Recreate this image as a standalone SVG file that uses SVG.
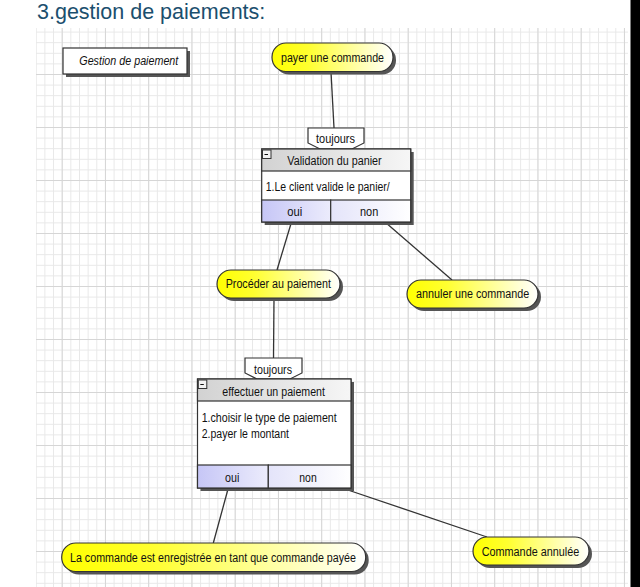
<svg xmlns="http://www.w3.org/2000/svg" width="640" height="587" viewBox="0 0 640 587">
<defs>
<pattern id="gMinor" patternUnits="userSpaceOnUse" x="9.8" y="10.4" width="8.65" height="10.6">
<rect x="0" y="0" width="1" height="10.6" fill="#e8e8e8"/>
<rect x="0" y="0" width="8.65" height="1" fill="#e8e8e8"/>
</pattern>
<pattern id="gMajor" patternUnits="userSpaceOnUse" x="18.45" y="21" width="43.25" height="53">
<rect x="0" y="0" width="1" height="53" fill="#d6d6d6"/>
<rect x="0" y="0" width="43.25" height="1" fill="#d6d6d6"/>
</pattern>
<linearGradient id="pillG" x1="0" y1="0" x2="1" y2="0">
<stop offset="0" stop-color="#ffff00"/>
<stop offset="0.3" stop-color="#ffff30"/>
<stop offset="1" stop-color="#ffffff"/>
</linearGradient>
<linearGradient id="headG" x1="0" y1="0" x2="1" y2="0">
<stop offset="0" stop-color="#d2d2d2"/>
<stop offset="1" stop-color="#f6f6f6"/>
</linearGradient>
<linearGradient id="ouiG" x1="0" y1="0" x2="1" y2="0">
<stop offset="0" stop-color="#c6c6f6"/>
<stop offset="1" stop-color="#ececfc"/>
</linearGradient>
<linearGradient id="nonG" x1="0" y1="0" x2="1" y2="0">
<stop offset="0" stop-color="#e4e4fa"/>
<stop offset="1" stop-color="#ffffff"/>
</linearGradient>
</defs>
<style>
text{font-family:"Liberation Sans",Arial,sans-serif;font-size:12.5px;fill:#111}
.it{font-style:italic}
.title{font-size:21.5px;fill:#1b4f6e}
.pill{fill:url(#pillG);stroke:#333;stroke-width:1.2}
.shadow{fill:#555}
.frame{fill:#fff;stroke:#333;stroke-width:1.2}
.head{fill:url(#headG);stroke:#333;stroke-width:1.2}
.oui{fill:url(#ouiG);stroke:#333;stroke-width:1.2}
.non{fill:url(#nonG);stroke:#333;stroke-width:1.2}
.tab{fill:#fff;stroke:#333;stroke-width:1.2}
.btn{fill:#f2f2f2;stroke:#333;stroke-width:1}
.conn line{stroke:#333;stroke-width:1.3}
</style>
<rect x="0" y="0" width="640" height="587" fill="#fff"/>
<rect x="36" y="28" width="592" height="559" fill="url(#gMinor)"/>
<rect x="36" y="28" width="592" height="559" fill="url(#gMajor)"/>
<rect x="630.5" y="0" width="9.5" height="587" fill="#000"/>
<text class="title" x="37" y="18.5">3.gestion de paiements:</text>

<g id="connectors" class="conn">
<line x1="331" y1="72" x2="334" y2="128"/>
<line x1="291.5" y1="222" x2="277" y2="270"/>
<line x1="385" y1="222" x2="452" y2="280"/>
<line x1="274" y1="298" x2="273.5" y2="358"/>
<line x1="228.3" y1="488" x2="213.3" y2="543"/>
<line x1="342" y1="488" x2="487" y2="537"/>
</g>

<g id="n-gestion">
<rect class="shadow" x="66" y="51" width="124" height="26"/>
<rect class="frame" x="63" y="48" width="124" height="26"/>
<text class="it" x="79.3" y="64.5" textLength="99" lengthAdjust="spacingAndGlyphs">Gestion de paiement</text>
</g>

<g id="n-payer">
<rect class="shadow" x="275" y="46" width="121" height="28.5" rx="14"/>
<rect class="pill" x="272" y="43" width="121" height="28.5" rx="14"/>
<text x="281" y="61.5" textLength="103" lengthAdjust="spacingAndGlyphs">payer une commande</text>
</g>

<g id="n-validation">
<path class="tab" d="M308,128 H364 V143 L352,149 H320 L308,143 Z"/>
<text x="316" y="143" textLength="39" lengthAdjust="spacingAndGlyphs">toujours</text>
<rect class="shadow" x="264.7" y="152" width="149" height="73"/>
<rect class="frame" x="261.7" y="149" width="149" height="73"/>
<rect class="head" x="261.7" y="149" width="149" height="22"/>
<rect class="btn" x="262.5" y="150" width="8.5" height="8.5"/>
<line x1="264.5" y1="154.5" x2="268" y2="154.5" stroke="#111" stroke-width="1"/>
<text x="287.3" y="165" textLength="94.4" lengthAdjust="spacingAndGlyphs">Validation du panier</text>
<text x="265.7" y="191" textLength="124" lengthAdjust="spacingAndGlyphs">1.Le client valide le panier/</text>
<rect class="oui" x="261.7" y="200" width="69" height="22"/>
<rect class="non" x="330.7" y="200" width="80" height="22"/>
<text x="287.3" y="216" textLength="15" lengthAdjust="spacingAndGlyphs">oui</text>
<text x="360" y="216" textLength="18.3" lengthAdjust="spacingAndGlyphs">non</text>
</g>

<g id="n-proceder">
<rect class="shadow" x="220" y="273" width="123" height="28" rx="14"/>
<rect class="pill" x="217" y="270" width="123" height="28" rx="14"/>
<text x="225.7" y="288" textLength="105.3" lengthAdjust="spacingAndGlyphs">Procéder au paiement</text>
</g>

<g id="n-annuler">
<rect class="shadow" x="410" y="283" width="131" height="28" rx="14"/>
<rect class="pill" x="407" y="280" width="131" height="28" rx="14"/>
<text x="416" y="298" textLength="113.3" lengthAdjust="spacingAndGlyphs">annuler une commande</text>
</g>

<g id="n-effectuer">
<path class="tab" d="M245,358 H302 V373 L290,379 H257 L245,373 Z"/>
<text x="254" y="373.5" textLength="38" lengthAdjust="spacingAndGlyphs">toujours</text>
<rect class="shadow" x="200.5" y="382" width="153.5" height="109"/>
<rect class="frame" x="197.5" y="379" width="153.5" height="109"/>
<rect class="head" x="197.5" y="379" width="153.5" height="22"/>
<rect class="btn" x="198.3" y="380" width="8.5" height="8.5"/>
<line x1="200.3" y1="384.5" x2="203.8" y2="384.5" stroke="#111" stroke-width="1"/>
<text x="222.3" y="395.5" textLength="102.7" lengthAdjust="spacingAndGlyphs">effectuer un paiement</text>
<text x="201.7" y="421.5" textLength="135" lengthAdjust="spacingAndGlyphs">1.choisir le type de paiement</text>
<text x="201.7" y="438" textLength="87.3" lengthAdjust="spacingAndGlyphs">2.payer le montant</text>
<rect class="oui" x="197.5" y="465" width="70.8" height="23"/>
<rect class="non" x="268.3" y="465" width="82.7" height="23"/>
<text x="225" y="481.5" textLength="14.3" lengthAdjust="spacingAndGlyphs">oui</text>
<text x="299.3" y="481.5" textLength="17.4" lengthAdjust="spacingAndGlyphs">non</text>
</g>

<g id="n-enregistree">
<rect class="shadow" x="64.7" y="546" width="304" height="28.5" rx="14"/>
<rect class="pill" x="61.7" y="543" width="304" height="28.5" rx="14"/>
<text x="70" y="561.5" textLength="286" lengthAdjust="spacingAndGlyphs">La commande est enregistrée en tant que commande payée</text>
</g>

<g id="n-annulee">
<rect class="shadow" x="476" y="540" width="116" height="28" rx="14"/>
<rect class="pill" x="473" y="537" width="116" height="28" rx="14"/>
<text x="481.7" y="555.5" textLength="97.6" lengthAdjust="spacingAndGlyphs">Commande annulée</text>
</g>
</svg>
